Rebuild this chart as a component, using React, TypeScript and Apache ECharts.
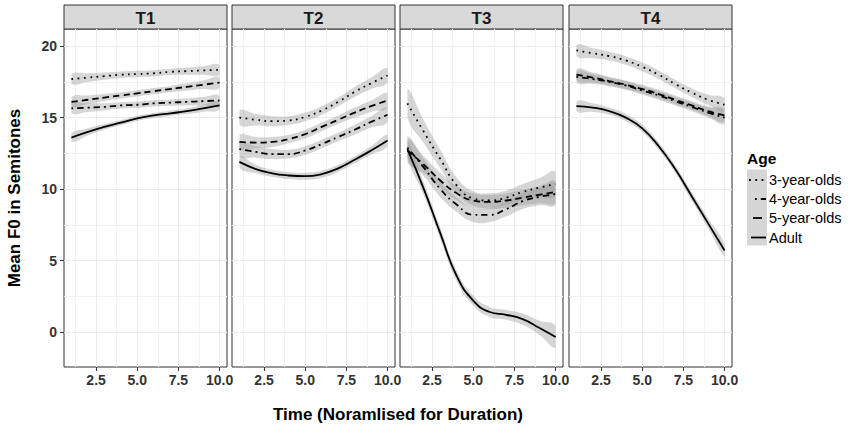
import React, { useEffect, useRef } from 'react';
import * as echarts from 'echarts';

const PANELS = ['T1', 'T2', 'T3', 'T4'];
const GROUPS = ['3-year-olds', '4-year-olds', '5-year-olds', 'Adult'];
const TIME = [1, 2, 3, 4, 5, 6, 7, 8, 9, 10];
const X_TICKS = [2.5, 5, 7.5, 10];
const X_MINOR = [1.25, 3.75, 6.25, 8.75];
const Y_TICKS = [0, 5, 10, 15, 20];
const Y_MINOR = [2.5, 7.5, 12.5, 17.5];
const X_MIN = 0.55;
const X_MAX = 10.45;
const Y_MIN = -2.45;
const Y_MAX = 21.2;

// Mean F0 (semitones), panel T1
const T1_3YO = [17.7, 17.8, 17.9, 18.0, 18.05, 18.1, 18.2, 18.25, 18.3, 18.35];
const T1_4YO = [15.65, 15.7, 15.75, 15.85, 15.9, 16.0, 16.05, 16.1, 16.15, 16.2];
const T1_5YO = [16.1, 16.25, 16.4, 16.55, 16.7, 16.85, 17.0, 17.15, 17.3, 17.45];
const T1_ADULT = [13.6, 14.0, 14.35, 14.65, 14.95, 15.15, 15.3, 15.45, 15.65, 15.85];
// panel T2
const T2_3YO = [15.0, 14.85, 14.75, 14.8, 15.05, 15.5, 16.1, 16.8, 17.4, 17.95];
const T2_4YO = [12.8, 12.6, 12.45, 12.45, 12.7, 13.15, 13.65, 14.15, 14.7, 15.2];
const T2_5YO = [13.3, 13.25, 13.3, 13.5, 13.85, 14.35, 14.85, 15.35, 15.8, 16.2];
const T2_ADULT = [11.9, 11.4, 11.1, 10.95, 10.9, 11.05, 11.45, 12.05, 12.7, 13.4];
// panel T3
const T3_3YO = [16.0, 14.0, 12.1, 10.25, 9.35, 9.2, 9.4, 9.8, 10.1, 10.35];
const T3_4YO = [12.9, 11.5, 10.0, 8.9, 8.2, 8.2, 8.6, 9.15, 9.45, 9.65];
const T3_5YO = [12.7, 11.7, 10.6, 9.7, 9.2, 9.1, 9.2, 9.4, 9.6, 9.8];
const T3_ADULT = [12.8, 10.0, 6.9, 3.9, 2.2, 1.4, 1.2, 0.9, 0.3, -0.35];
// panel T4
const T4_3YO = [19.7, 19.5, 19.3, 19.0, 18.55, 18.0, 17.35, 16.75, 16.25, 15.9];
const T4_4YO = [17.85, 17.7, 17.5, 17.25, 16.9, 16.55, 16.15, 15.75, 15.35, 15.0];
const T4_5YO = [18.0, 17.8, 17.55, 17.3, 17.0, 16.65, 16.25, 15.85, 15.45, 15.15];
const T4_ADULT = [15.8, 15.7, 15.45, 15.0, 14.25, 13.0, 11.4, 9.5, 7.6, 5.7];

// Confidence band half-widths
const T1_3YO_SE = [0.35, 0.3, 0.25, 0.22, 0.22, 0.22, 0.22, 0.25, 0.3, 0.35];
const T1_4YO_SE = [0.35, 0.3, 0.25, 0.22, 0.22, 0.22, 0.22, 0.25, 0.3, 0.35];
const T1_5YO_SE = [0.35, 0.3, 0.25, 0.22, 0.22, 0.22, 0.22, 0.25, 0.3, 0.38];
const T1_ADULT_SE = [0.3, 0.25, 0.2, 0.18, 0.18, 0.18, 0.18, 0.2, 0.25, 0.3];
const T2_3YO_SE = [0.5, 0.4, 0.35, 0.3, 0.3, 0.3, 0.3, 0.35, 0.4, 0.5];
const T2_4YO_SE = [0.5, 0.4, 0.35, 0.3, 0.3, 0.3, 0.3, 0.35, 0.4, 0.5];
const T2_5YO_SE = [0.5, 0.4, 0.35, 0.3, 0.3, 0.3, 0.3, 0.35, 0.4, 0.5];
const T2_ADULT_SE = [0.4, 0.3, 0.25, 0.25, 0.25, 0.25, 0.25, 0.25, 0.3, 0.4];
const T3_3YO_SE = [1.0, 0.8, 0.65, 0.55, 0.5, 0.5, 0.5, 0.55, 0.65, 0.85];
const T3_4YO_SE = [0.8, 0.6, 0.55, 0.5, 0.5, 0.5, 0.5, 0.55, 0.6, 0.75];
const T3_5YO_SE = [0.8, 0.6, 0.55, 0.5, 0.5, 0.5, 0.5, 0.55, 0.6, 0.75];
const T3_ADULT_SE = [0.6, 0.45, 0.4, 0.35, 0.35, 0.35, 0.35, 0.4, 0.5, 0.75];
const T4_3YO_SE = [0.4, 0.35, 0.3, 0.3, 0.3, 0.3, 0.3, 0.3, 0.35, 0.45];
const T4_4YO_SE = [0.4, 0.35, 0.3, 0.3, 0.3, 0.3, 0.3, 0.3, 0.35, 0.45];
const T4_5YO_SE = [0.4, 0.35, 0.3, 0.3, 0.3, 0.3, 0.3, 0.3, 0.35, 0.45];
const T4_ADULT_SE = [0.35, 0.3, 0.25, 0.25, 0.25, 0.25, 0.25, 0.3, 0.35, 0.45];

const MEANS = [
  [T1_3YO, T1_4YO, T1_5YO, T1_ADULT],
  [T2_3YO, T2_4YO, T2_5YO, T2_ADULT],
  [T3_3YO, T3_4YO, T3_5YO, T3_ADULT],
  [T4_3YO, T4_4YO, T4_5YO, T4_ADULT],
];
const SES = [
  [T1_3YO_SE, T1_4YO_SE, T1_5YO_SE, T1_ADULT_SE],
  [T2_3YO_SE, T2_4YO_SE, T2_5YO_SE, T2_ADULT_SE],
  [T3_3YO_SE, T3_4YO_SE, T3_5YO_SE, T3_ADULT_SE],
  [T4_3YO_SE, T4_4YO_SE, T4_5YO_SE, T4_ADULT_SE],
];

const FONT = '"Liberation Sans", Arial, Helvetica, sans-serif';
const DASHES: any[] = [[1.8, 4.5], [1.8, 4, 6.5, 4], [6.5, 4], 'solid'];
const RIBBON_FILL = 'rgba(153,153,153,0.4)';
const PANEL_LEFT = [64, 232, 400, 569];
const PANEL_W = 163;
const PANEL_TOP = 29;
const PANEL_H = 338;
const STRIP_TOP = 5;
const STRIP_H = 24;

export default function App() {
  const ref = useRef<HTMLDivElement>(null);

  useEffect(() => {
    document.body.style.margin = '0';
    if (!ref.current) return;
    const chart = echarts.init(ref.current, undefined, { renderer: 'svg' });

    const grid = PANELS.map((_, p) => ({
      left: PANEL_LEFT[p],
      top: PANEL_TOP,
      width: PANEL_W,
      height: PANEL_H,
      containLabel: false,
      outerBoundsMode: 'none',
      show: true,
      backgroundColor: '#ffffff',
      borderColor: '#333333',
      borderWidth: 1,
    }));

    const tickLabel = {
      color: '#333333',
      fontWeight: 'bold',
      fontSize: 14,
      fontFamily: FONT,
    };

    const xAxis: any[] = [];
    const yAxis: any[] = [];
    PANELS.forEach((_, p) => {
      xAxis.push({
        type: 'value',
        gridIndex: p,
        min: X_MIN,
        max: X_MAX,
        position: 'bottom',
        axisLine: { show: false, onZero: false },
        axisTick: { show: true, length: 4, lineStyle: { color: '#333333', width: 1 }, customValues: X_TICKS },
        axisLabel: { show: true, customValues: X_TICKS, margin: 6, formatter: (v: number) => v.toFixed(1), ...tickLabel },
        splitLine: { show: true, lineStyle: { color: '#EBEBEB', width: 1 } },
      });
      xAxis.push({
        type: 'value',
        gridIndex: p,
        min: X_MIN,
        max: X_MAX,
        position: 'top',
        axisLine: { show: false, onZero: false },
        axisTick: { show: false, customValues: X_MINOR },
        axisLabel: { show: false, customValues: X_MINOR },
        splitLine: { show: true, lineStyle: { color: '#F2F2F2', width: 1 } },
      });
      yAxis.push({
        type: 'value',
        gridIndex: p,
        min: Y_MIN,
        max: Y_MAX,
        position: 'left',
        axisLine: { show: false, onZero: false },
        axisTick: { show: p === 0, length: 4, lineStyle: { color: '#333333', width: 1 }, customValues: Y_TICKS },
        axisLabel: { show: p === 0, customValues: Y_TICKS, margin: 7, formatter: (v: number) => String(v), ...tickLabel },
        splitLine: { show: true, lineStyle: { color: '#EBEBEB', width: 1 } },
      });
      yAxis.push({
        type: 'value',
        gridIndex: p,
        min: Y_MIN,
        max: Y_MAX,
        position: 'right',
        axisLine: { show: false, onZero: false },
        axisTick: { show: false, customValues: Y_MINOR },
        axisLabel: { show: false, customValues: Y_MINOR },
        splitLine: { show: true, lineStyle: { color: '#F2F2F2', width: 1 } },
      });
    });

    const series: any[] = [];
    PANELS.forEach((_, p) => {
      GROUPS.forEach((g, gi) => {
        const mean = MEANS[p][gi];
        const se = SES[p][gi];
        series.push({
          type: 'custom',
          name: g + ' band',
          coordinateSystem: 'cartesian2d',
          xAxisIndex: 2 * p,
          yAxisIndex: 2 * p,
          silent: true,
          z: 2,
          data: [[TIME[0], mean[0]]],
          renderItem: (_params: any, api: any) => {
            const upper = TIME.map((t, i) => api.coord([t, mean[i] + se[i]]));
            const lower = TIME.map((t, i) => api.coord([t, mean[i] - se[i]])).reverse();
            const x0 = api.coord([TIME[0], 0])[0];
            const x1 = api.coord([TIME[TIME.length - 1], 0])[0];
            return {
              type: 'polygon',
              shape: {
                points: upper.concat(lower),
                smooth: 0.5,
                smoothConstraint: [[x0, -10000], [x1, 10000]],
              },
              style: { fill: RIBBON_FILL, stroke: null },
            };
          },
        });
        series.push({
          type: 'line',
          name: g,
          xAxisIndex: 2 * p,
          yAxisIndex: 2 * p,
          data: TIME.map((t, i) => [t, mean[i]]),
          smooth: 0.5,
          showSymbol: false,
          symbol: 'none',
          silent: true,
          z: 2,
          lineStyle: { color: '#000000', width: 1.8, type: DASHES[gi] },
        });
      });
    });

    const graphic: any[] = [];
    PANELS.forEach((name, p) => {
      graphic.push({
        type: 'rect',
        silent: true,
        shape: { x: PANEL_LEFT[p], y: STRIP_TOP, width: PANEL_W, height: STRIP_H },
        style: { fill: '#D9D9D9', stroke: '#333333', lineWidth: 1 },
      });
      graphic.push({
        type: 'text',
        silent: true,
        style: {
          x: PANEL_LEFT[p] + PANEL_W / 2,
          y: STRIP_TOP + STRIP_H / 2 + 1,
          text: name,
          align: 'center',
          verticalAlign: 'middle',
          textAlign: 'center',
          textVerticalAlign: 'middle',
          font: `bold 17px ${FONT}`,
          fill: '#1A1A1A',
        },
      });
    });
    // axis titles
    graphic.push({
      type: 'text',
      silent: true,
      style: {
        x: 398,
        y: 414,
        text: 'Time (Noramlised for Duration)',
        align: 'center',
        verticalAlign: 'middle',
        textAlign: 'center',
        textVerticalAlign: 'middle',
        font: `bold 17px ${FONT}`,
        fill: '#000000',
      },
    });
    graphic.push({
      type: 'text',
      silent: true,
      x: 14,
      y: 198,
      rotation: Math.PI / 2,
      style: {
        x: 0,
        y: 0,
        text: 'Mean F0 in Semitones',
        align: 'center',
        verticalAlign: 'middle',
        textAlign: 'center',
        textVerticalAlign: 'middle',
        font: `bold 17px ${FONT}`,
        fill: '#000000',
      },
    });
    // legend
    graphic.push({
      type: 'text',
      silent: true,
      style: {
        x: 747,
        y: 158,
        text: 'Age',
        align: 'left',
        verticalAlign: 'middle',
        textAlign: 'left',
        textVerticalAlign: 'middle',
        font: `bold 15.5px ${FONT}`,
        fill: '#000000',
      },
    });
    graphic.push({
      type: 'rect',
      silent: true,
      shape: { x: 747, y: 169.5, width: 20, height: 76 },
      style: { fill: '#D6D6D6' },
    });
    const rowY = [180, 199, 218, 237.5];
    const sampleX = [[749, 766], [755, 766], [753, 762], [751, 766]];
    GROUPS.forEach((g, gi) => {
      graphic.push({
        type: 'line',
        silent: true,
        shape: { x1: sampleX[gi][0], y1: rowY[gi], x2: sampleX[gi][1], y2: rowY[gi] },
        style: {
          stroke: '#000000',
          lineWidth: 1.8,
          lineDash: gi === 3 || gi === 2 ? null : DASHES[gi],
        },
      });
      graphic.push({
        type: 'text',
        silent: true,
        style: {
          x: 769,
          y: rowY[gi],
          text: g,
          align: 'left',
          verticalAlign: 'middle',
          textAlign: 'left',
          textVerticalAlign: 'middle',
          font: `14.5px ${FONT}`,
          fill: '#000000',
        },
      });
    });

    chart.setOption({
      animation: false,
      backgroundColor: '#ffffff',
      textStyle: { fontFamily: FONT },
      grid,
      xAxis,
      yAxis,
      series,
      graphic,
    });

    return () => {
      chart.dispose();
    };
  }, []);

  return (
    <div
      ref={ref}
      style={{ position: 'fixed', left: 0, top: 0, width: 851, height: 426, background: '#ffffff' }}
    />
  );
}
